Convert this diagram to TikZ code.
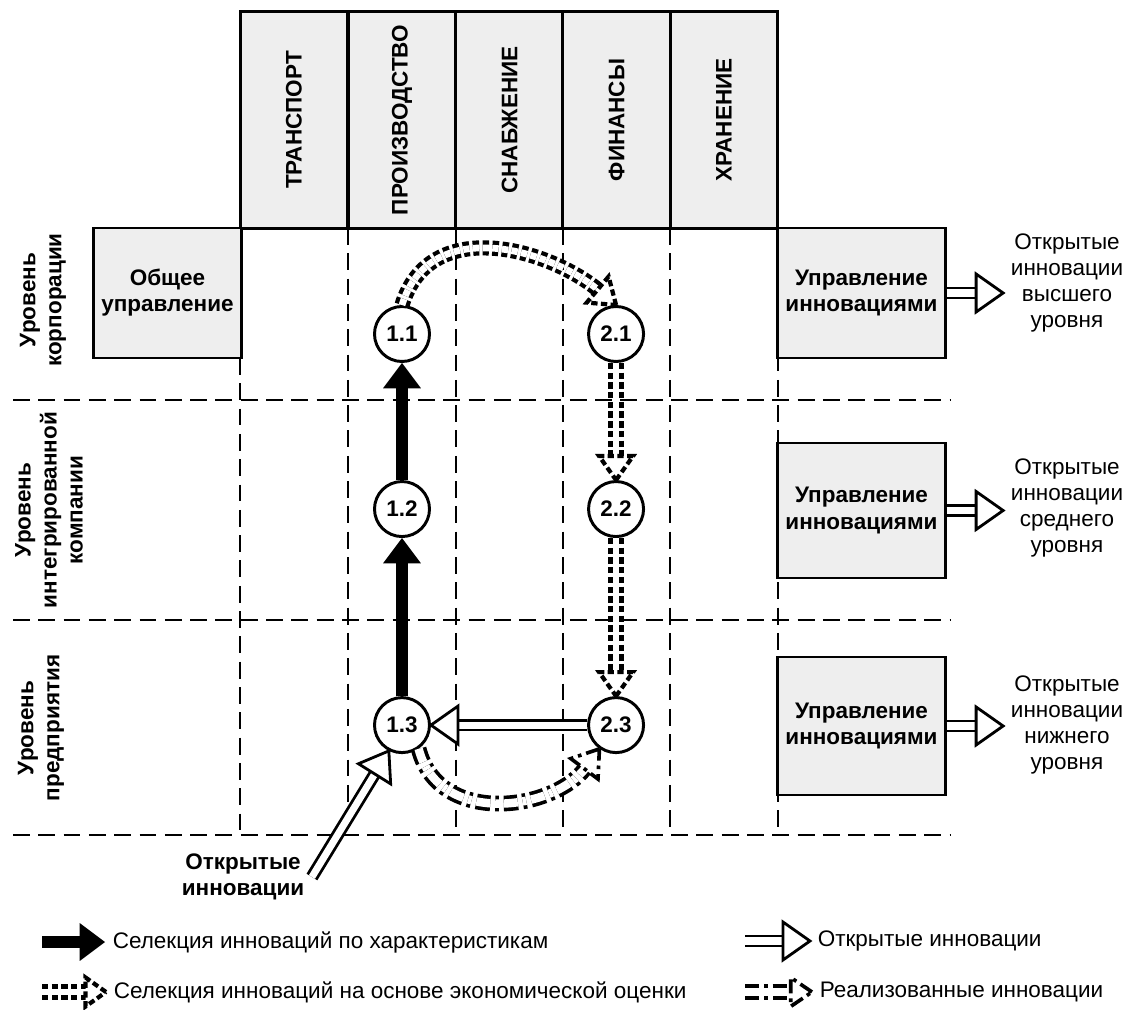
\documentclass[tikz,border=0pt]{standalone}
\usepackage{fontspec}
\setmainfont{Liberation Sans}
\usepackage{tikz}
\usetikzlibrary{positioning}
\usetikzlibrary{shapes,arrows.meta}
\definecolor{boxgray}{RGB}{238,238,238}
\tikzset{%
  dept/.style     = {draw, line width=2.1pt, fill=boxgray, rotate=90,
    minimum width=5.4cm, minimum height=2.69cm, font=\bfseries},
  block/.style    = {draw, line width=2.1pt, fill=boxgray, align=center,
    minimum width=4.175cm, minimum height=3.3cm, font=\bfseries},
  stage/.style    = {draw, circle, line width=2.1pt, fill=white, inner sep=0pt,
    minimum size=1.375cm, font=\bfseries\fontsize{16}{18}\selectfont},
  rowlabel/.style = {rotate=90, align=center, font=\bfseries},
  gridline/.style = {line width=1.8pt, dash pattern=on 12pt off 6pt},
  selarrow/.style = {line width=9pt, -{Triangle[length=18pt, width=27pt, line width=0pt]}}, % selection
  opendbl/.style  = {double, line width=2pt, double distance=5pt}, % open innovations
  dotdbl/.style   = {double, line width=3pt, double distance=4.8pt,
    dash pattern=on 4.5pt off 2.4pt},
  dotdash/.style  = {double, line width=2.6pt, double distance=6pt,
    dash pattern=on 10pt off 3.5pt on 2.6pt off 3.5pt}, % realised
  openhead/.pic   = {\draw[line width=2pt, fill=white]
    (0,0) -- (-27,-19) -- (-27,19) -- cycle;},
  dothead/.pic    = {\draw[line width=3pt, fill=white, dash pattern=on 4.5pt off 2.4pt]
    (0,0) -- (-24,-17) -- (-24,17) -- cycle;},
  dotdashhead/.pic = {\draw[line width=2.6pt, fill=white,
    dash pattern=on 10pt off 3.5pt on 2.6pt off 3.5pt]
    (0,0) -- (-25,-17) -- (-25,17) -- cycle;}
}

\begin{document}
\fontsize{16}{18.5}\selectfont
\begin{tikzpicture}[x=0.025cm, y=-0.025cm]
  \useasboundingbox (0,0) rectangle (1126,1010);

  % levels and functions
  \draw[gridline] (13,400) -- (950,400);
  \draw[gridline] (13,620) -- (950,620);
  \draw[gridline] (13,835) -- (950,835);
  \draw[gridline] (240,358) -- (240,835);
  \draw[gridline] (348,228) -- (348,835);
  \draw[gridline] (456,228) -- (456,835);
  \draw[gridline] (563,228) -- (563,835);
  \draw[gridline] (670,228) -- (670,835);
  \draw[gridline] (778,228) -- (778,835);

  \draw node at (294,120) [dept] (tr) {ТРАНСПОРТ};
  \draw node at (402,120) [dept] (pr) {ПРОИЗВОДСТВО};
  \draw node at (509.5,120) [dept] (sn) {СНАБЖЕНИЕ};
  \draw node at (616.5,120) [dept] (fi) {ФИНАНСЫ};
  \draw node at (724,120) [dept] (hr) {ХРАНЕНИЕ};

  \node[rowlabel] (r1) at (43,300) {Уровень\\корпорации};
  \node[rowlabel] (r2) at (49,510) {Уровень\\интегрированной\\компании};
  \node[rowlabel] (r3) at (41,728) {Уровень\\предприятия};

  \draw node at (167.5,293) [block, minimum width=3.625cm, minimum height=3.25cm] (gm) {Общее\\управление};
  \draw node at (861.5,293) [block, minimum height=3.25cm] (m1) {Управление\\инновациями};
  \draw node at (861.5,510.5) [block, minimum height=3.375cm] (m2) {Управление\\инновациями};
  \draw node at (861.5,726) [block, minimum height=3.45cm] (m3) {Управление\\инновациями};

  \node[align=center] (o1) at (1067,283) {Открытые\\инновации\\высшего\\уровня};
  \node[align=center] (o2) at (1067,508) {Открытые\\инновации\\среднего\\уровня};
  \node[align=center] (o3) at (1067,725) {Открытые\\инновации\\нижнего\\уровня};

  \draw node at (402,334) [stage] (c11) {1.1};
  \draw node [stage, right of=c11, node distance=5.35cm] (c21) {2.1};
  \draw node [stage, below of=c11, node distance=4.375cm] (c12) {1.2};
  \draw node [stage, right of=c12, node distance=5.35cm] (c22) {2.2};
  \draw node [stage, below of=c12, node distance=5.4cm] (c13) {1.3};
  \draw node [stage, right of=c13, node distance=5.35cm] (c23) {2.3};

  \node[font=\bfseries, align=center] (oi) at (243,877) {Открытые\\инновации};

  % selection by characteristics
  \draw[selarrow] (c13) -- (c12);
  \draw[selarrow] (c12) -- (c11);

  % selection by economic assessment
  \draw[dotdbl, shorten >=15pt] (c11.north) .. controls +(28,-91) and +(-66,-56) .. (c21.north);
  \pic[rotate=-40] at (c21.north) {dothead};
  \draw[dotdbl, shorten >=15pt] (c21) -- (c22);
  \pic[rotate=-90] at (c22.north) {dothead};
  \draw[dotdbl, shorten >=15pt] (c22) -- (c23);
  \pic[rotate=-90] at (c23.north) {dothead};

  % open innovations
  \draw[opendbl, shorten >=17pt] (c23) -- (c13);
  \pic[rotate=180] at (c13.east) {openhead};
  \draw[opendbl, shorten >=17pt] (oi.east) -- (c13.-117);
  \pic[rotate=58] at (c13.-117) {openhead};
  \draw[opendbl, shorten >=17pt] (m1.east) -- (m1.east -| o1.west);
  \pic at (m1.east -| o1.west) {openhead};
  \draw[opendbl, shorten >=17pt] (m2.east) -- (m2.east -| o2.west);
  \pic at (m2.east -| o2.west) {openhead};
  \draw[opendbl, shorten >=17pt] (m3.east) -- (m3.east -| o3.west);
  \pic at (m3.east -| o3.west) {openhead};

  % realised innovations
  \draw[dotdash, shorten >=16pt] (c13.-55) .. controls +(20,78) and +(-45,62) .. (c23.-125);
  \pic[rotate=53] at (c23.-125) {dotdashhead};

  % legend
  \coordinate (k1) at (42,942);
  \coordinate (k2) at (42,992);
  \coordinate (k3) at (745,941);
  \coordinate (k4) at (745,992);
  \node[anchor=west] (l1) at (105,942) {Селекция инноваций по характеристикам};
  \node[anchor=west] (l2) at (106,992) {Селекция инноваций на основе экономической оценки};
  \node[anchor=west] (l3) at (810,941) {Открытые инновации};
  \node[anchor=west] (l4) at (812,992) {Реализованные инновации};
  \draw[selarrow] (k1) -- (l1.west);
  \draw[dotdbl, shorten >=13pt] (k2) -- (l2.west);
  \pic[scale=0.85] at (l2.west) {dothead};
  \draw[opendbl, shorten >=17pt] (k3) -- (l3.west);
  \pic at (l3.west) {openhead};
  \draw[dotdash, shorten >=13pt] (k4) -- (l4.west);
  \pic[scale=0.85] at (l4.west) {dotdashhead};
\end{tikzpicture}
\end{document}
